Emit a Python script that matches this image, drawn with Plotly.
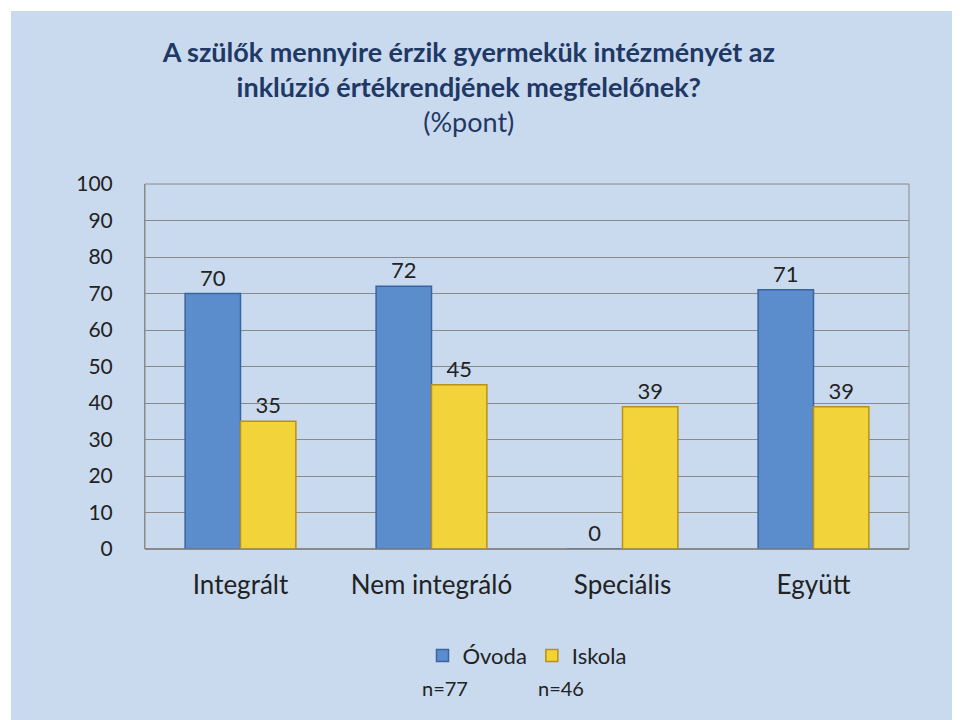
import plotly.graph_objects as go

categories = ["Integrált", "Nem integráló", "Speciális", "Együtt"]
ovoda = [70, 72, 0, 71]
iskola = [35, 45, 39, 39]
y_ticks = [0, 10, 20, 30, 40, 50, 60, 70, 80, 90, 100]

FONT = "Lato, 'Open Sans', sans-serif"

fig = go.Figure()
fig.add_trace(go.Bar(
    x=categories, y=ovoda, name="Óvoda",
    marker=dict(color="#5B8CCB", line=dict(color="#3A64A0", width=1.5)),
    text=ovoda, textposition="outside", cliponaxis=False,
    textfont=dict(size=22, color="#222"),
))
fig.add_trace(go.Bar(
    x=categories, y=iskola, name="Iskola",
    marker=dict(color="#F2D33A", line=dict(color="#B8901A", width=1.5)),
    text=iskola, textposition="outside", cliponaxis=False,
    textfont=dict(size=22, color="#222"),
))

fig.update_layout(
    width=960, height=720,
    margin=dict(l=137, r=59, t=176, b=179, autoexpand=False),
    paper_bgcolor="#C9DAEF", plot_bgcolor="rgba(0,0,0,0)",
    font=dict(family=FONT, color="#222"),
    barmode="group", bargap=0.42, bargroupgap=0,
    title=dict(
        text="<b>A szülők mennyire érzik gyermekük intézményét az<br>inklúzió értékrendjének megfelelőnek?</b><br>(%pont)",
        x=0.48, xanchor="center", y=0.925, yanchor="top",
        font=dict(size=27, color="#1F3864"),
    ),
    showlegend=True,
    legend=dict(orientation="h", x=0.5, xanchor="center", y=-0.235, yanchor="top",
                font=dict(size=22), bgcolor="rgba(0,0,0,0)"),
    xaxis=dict(showline=False, tickfont=dict(size=26), ticklabelstandoff=18, automargin=False),
    yaxis=dict(range=[0, 100], tickvals=y_ticks, showgrid=True, gridcolor="#8A8A8A",
               gridwidth=1, tickfont=dict(size=21), ticklabelstandoff=27, automargin=False,
               showline=True, linecolor="#8A8A8A", zeroline=True, zerolinecolor="#8A8A8A"),
    shapes=[
        dict(type="rect", xref="paper", yref="paper", x0=0, x1=1, y0=0, y1=1,
             line=dict(color="#8A8A8A", width=1)),
        dict(type="rect", xref="paper", yref="paper",
             x0=-137 / 764, x1=1 + 59 / 764, y0=-179 / 365, y1=1 + 176 / 365,
             line=dict(color="#FFFFFF", width=6), layer="below"),
    ],
    annotations=[
        dict(text="n=77", xref="paper", yref="paper", x=(437 - 137) / 764, y=-(694 - 541) / 365,
             showarrow=False, font=dict(size=20)),
        dict(text="n=46", xref="paper", yref="paper", x=(553 - 137) / 764, y=-(694 - 541) / 365,
             showarrow=False, font=dict(size=20)),
    ],
)

fig.write_html("out.html")
